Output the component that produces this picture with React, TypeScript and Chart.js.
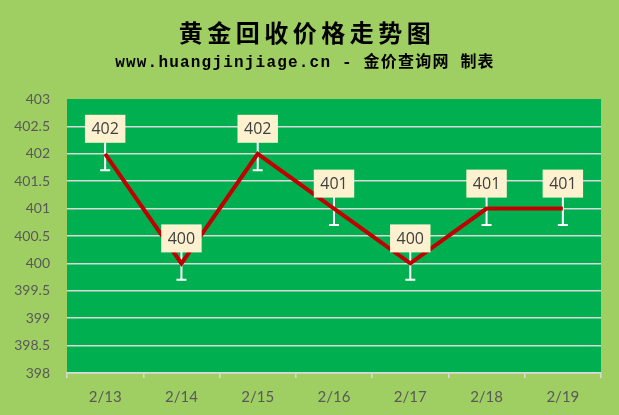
import { useEffect, useRef } from "react";
import { Chart, registerables } from "chart.js";

Chart.register(...registerables);

const categories = ["2/13", "2/14", "2/15", "2/16", "2/17", "2/18", "2/19"];
const prices = [402, 400, 402, 401, 400, 401, 401];
const errorPlus = [0.3, 0.3, 0.3, 0.3, 0.3, 0.3, 0.3];
const errorMinus = [0.3, 0.3, 0.3, 0.3, 0.3, 0.3, 0.3];
const yTicks = [398, 398.5, 399, 399.5, 400, 400.5, 401, 401.5, 402, 402.5, 403];
const titleText = "黄金回收价格走势图";
const subtitleText = "www.huangjinjiage.cn - 金价查询网 制表";

const BG = "#9FCE63";
const PLOT_BG = "#00B050";
const GRID = "#D9D9D9";

// background, plot area, titles
const backdrop = {
  id: "backdrop",
  beforeDraw(chart: any) {
    const { ctx, width, height, chartArea } = chart;
    ctx.save();
    ctx.fillStyle = BG;
    ctx.fillRect(0, 0, width, height);
    ctx.fillStyle = PLOT_BG;
    ctx.fillRect(chartArea.left, chartArea.top, chartArea.right - chartArea.left, chartArea.bottom - chartArea.top);
    ctx.fillStyle = "#000";
    ctx.textAlign = "center";
    ctx.textBaseline = "middle";
    ctx.font = 'bold 24px "Noto Sans CJK SC"';
    ctx.letterSpacing = "4.5px";
    ctx.fillText(titleText, 307, 33);
    ctx.font = 'bold 16px "Liberation Mono", "Noto Sans CJK SC"';
    ctx.letterSpacing = "1.2px";
    ctx.fillText(subtitleText, 305, 63);
    ctx.restore();
  },
};

// white error bars under the line
const errorBars = {
  id: "errorBars",
  beforeDatasetsDraw(chart: any) {
    const { ctx } = chart;
    const x = chart.scales.x;
    const y = chart.scales.y;
    ctx.save();
    ctx.strokeStyle = "#FFFFFF";
    ctx.lineWidth = 2;
    prices.forEach((v, i) => {
      const px = x.getPixelForValue(i);
      const top = y.getPixelForValue(v + errorPlus[i]);
      const bot = y.getPixelForValue(v - errorMinus[i]);
      ctx.beginPath();
      ctx.moveTo(px, top);
      ctx.lineTo(px, bot);
      ctx.moveTo(px - 5, top);
      ctx.lineTo(px + 5, top);
      ctx.moveTo(px - 5, bot);
      ctx.lineTo(px + 5, bot);
      ctx.stroke();
    });
    ctx.restore();
  },
};

// value boxes above each point
const valueLabels = {
  id: "valueLabels",
  afterDatasetsDraw(chart: any) {
    const { ctx } = chart;
    const x = chart.scales.x;
    const y = chart.scales.y;
    ctx.save();
    ctx.font = '16px "Open Sans"';
    ctx.textAlign = "center";
    ctx.textBaseline = "middle";
    prices.forEach((v, i) => {
      const px = x.getPixelForValue(i);
      const py = y.getPixelForValue(v);
      const text = String(v);
      const w = ctx.measureText(text).width + 13;
      const h = 28;
      const bottom = py - 11;
      ctx.fillStyle = "#FDF1D0";
      ctx.fillRect(px - w / 2, bottom - h, w, h);
      ctx.fillStyle = "#404040";
      ctx.fillText(text, px, bottom - h / 2 + 1);
    });
    ctx.restore();
  },
};

const App = () => {
  const chartRef: any = useRef(null);

  useEffect(() => {
    document.body.style.margin = "0";
    const ctx = chartRef.current.getContext("2d");
    const theChart = new Chart(ctx, {
      type: "line",
      data: {
        labels: categories,
        datasets: [
          {
            data: prices,
            borderColor: "#C00000",
            borderWidth: 4,
            pointRadius: 0,
            tension: 0,
            fill: false,
          },
        ],
      },
      options: {
        animation: false,
        responsive: true,
        maintainAspectRatio: false,
        layout: { padding: { top: 99, right: 18, bottom: 0, left: 0 } },
        plugins: {
          legend: { display: false },
          tooltip: { enabled: false },
        },
        scales: {
          x: {
            offset: true,
            afterFit: (scale: any) => {
              scale.height = 42;
            },
            grid: {
              offset: true,
              drawOnChartArea: false,
              drawTicks: true,
              tickLength: 5,
              color: GRID,
              lineWidth: 1.5,
            },
            border: { color: GRID, width: 1.5 },
            ticks: {
              color: "#595959",
              font: { family: "Lato", size: 15 },
              padding: 10,
              maxRotation: 0,
            },
          },
          y: {
            min: 398,
            max: 403,
            afterFit: (scale: any) => {
              scale.width = 67;
            },
            afterBuildTicks: (scale: any) => {
              scale.ticks = yTicks.map((v) => ({ value: v }));
            },
            grid: {
              drawTicks: false,
              color: (c: any) => (c.tick && c.tick.value === 403 ? "rgba(0,0,0,0)" : GRID),
              lineWidth: 1.5,
            },
            border: { display: false },
            ticks: {
              color: "#595959",
              font: { family: "Lato", size: 14 },
              padding: 17,
              callback: (v: any) => String(v),
            },
          },
        },
      },
      plugins: [backdrop, errorBars, valueLabels],
    });
    return () => {
      theChart.destroy();
    };
  }, []);

  return (
    <div style={{ position: "relative", width: 619, height: 415 }}>
      <canvas ref={chartRef} />
    </div>
  );
};

export default App;
